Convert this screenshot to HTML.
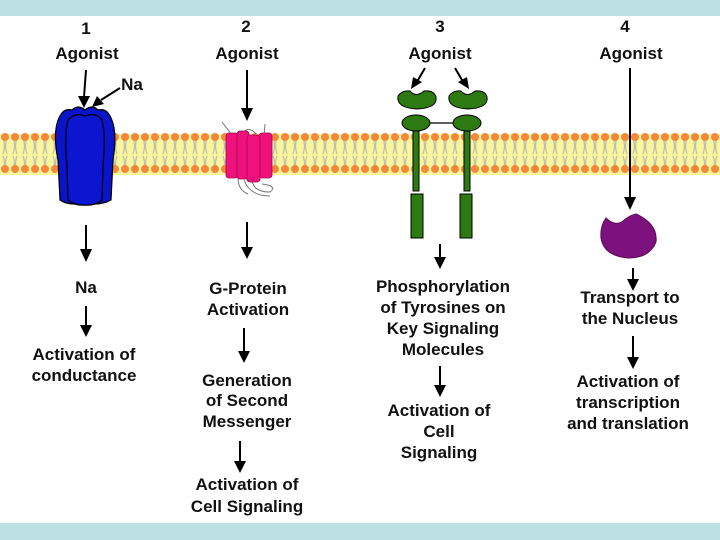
<!DOCTYPE html>
<html><head><style>
html,body{margin:0;padding:0;background:#fff}
svg{display:block}
text{font-family:"Liberation Sans",Arial,sans-serif;font-weight:bold;font-size:17px;fill:#111;text-anchor:middle}
</style></head><body>
<svg width="720" height="540" viewBox="0 0 720 540" xmlns="http://www.w3.org/2000/svg">
<defs>
<pattern id="lip" x="0" y="0" width="10" height="44" patternUnits="userSpaceOnUse">
<path d="M3 6 q3 8 0 16 M7 6 q-3 8 0 16 M3 24 q3 8 0 14 M7 24 q-3 8 0 14" stroke="#bdbdb0" stroke-width="1.2" fill="none"/>
</pattern>
<pattern id="bead" x="0" y="0" width="10" height="44" patternUnits="userSpaceOnUse">
<circle cx="5" cy="5" r="4" fill="#f5883a"/>
<circle cx="5" cy="37" r="4" fill="#f5883a"/>
</pattern>
</defs>
<rect x="0" y="0" width="720" height="16" fill="#bde0e3"/>
<rect x="0" y="523" width="720" height="17" fill="#bde0e3"/>
<rect x="0" y="134" width="720" height="41" fill="#f8f59c"/>
<rect x="0" y="133" width="720" height="44" fill="url(#lip)"/>
<rect x="0" y="133" width="720" height="44" fill="url(#bead)"/>

<text x="86" y="34">1</text><text x="246" y="32">2</text><text x="440" y="32">3</text><text x="625" y="32">4</text>
<text x="87" y="59">Agonist</text><text x="247" y="59">Agonist</text><text x="440" y="59">Agonist</text><text x="631" y="59">Agonist</text>
<text x="132" y="90">Na</text>

<g stroke="#000" stroke-width="2" fill="none">
<line x1="86" y1="70" x2="84" y2="97"/>
<line x1="120" y1="88" x2="101" y2="100"/>
<line x1="247" y1="70" x2="247" y2="108"/>
<line x1="425" y1="68" x2="418" y2="80"/>
<line x1="455" y1="68" x2="462" y2="80"/>
<line x1="630" y1="68" x2="630" y2="198"/>
<line x1="86" y1="225" x2="86" y2="250"/>
<line x1="86" y1="306" x2="86" y2="326"/>
<line x1="247" y1="222" x2="247" y2="248"/>
<line x1="244" y1="328" x2="244" y2="352"/>
<line x1="240" y1="441" x2="240" y2="462"/>
<line x1="440" y1="244" x2="440" y2="258"/>
<line x1="440" y1="366" x2="440" y2="386"/>
<line x1="633" y1="268" x2="633" y2="280"/>
<line x1="633" y1="336" x2="633" y2="358"/>
</g>
<g fill="#000">
<path d="M78 96 L90 96 L84 108 Z"/>
<path d="M97 96 L104 104 L92 107 Z"/>
<path d="M241 108 L253 108 L247 121 Z"/>
<path d="M413 77 L422 82 L411 89 Z"/>
<path d="M458 82 L467 77 L469 89 Z"/>
<path d="M624 197 L636 197 L630 210 Z"/>
<path d="M80 249 L92 249 L86 262 Z"/>
<path d="M80 325 L92 325 L86 337 Z"/>
<path d="M241 247 L253 247 L247 259 Z"/>
<path d="M238 351 L250 351 L244 363 Z"/>
<path d="M234 461 L246 461 L240 473 Z"/>
<path d="M434 257 L446 257 L440 269 Z"/>
<path d="M434 385 L446 385 L440 397 Z"/>
<path d="M627 279 L639 279 L633 291 Z"/>
<path d="M627 357 L639 357 L633 369 Z"/>
</g>

<g fill="#0a14c8" stroke="#000" stroke-width="1.2">
<path d="M60 116 Q64 108 72 110 Q78 104 85 110 Q92 104 98 110 Q106 108 110 116 Q118 130 113 160 L111 200 Q100 206 85 203 Q68 206 60 200 L58 160 Q52 130 60 116 Z"/>
<path d="M68 120 Q75 112 85 116 Q96 112 102 120 Q106 135 103 165 L102 200 Q95 206 85 205 Q75 206 68 200 L67 165 Q64 135 68 120 Z" fill="#0c16d0"/>
</g>

<g stroke="#777" stroke-width="1" fill="none">
<path d="M222 122 L232 135"/><path d="M265 124 L264 135"/>
<path d="M240 136 Q248 124 256 134"/>
<path d="M238 178 Q238 190 248 194"/><path d="M252 178 Q252 192 270 192 Q278 186 262 184"/>
<path d="M244 180 Q250 196 270 196"/>
</g>
<g fill="#f0127c" stroke="#a00848" stroke-width="0.8">
<rect x="226" y="133" width="12" height="45" rx="3"/>
<rect x="237" y="131" width="12" height="48" rx="3"/>
<rect x="259" y="133" width="13" height="45" rx="3"/>
<rect x="247" y="135" width="13" height="47" rx="3"/>
</g>

<g fill="#2e7a12" stroke="#000" stroke-width="1">
<path d="M398 96 Q402 90 410 91 Q416 98 424 91 Q434 90 436 97 Q438 108 417 109 Q396 108 398 96 Z"/>
<path d="M449 96 Q453 90 461 91 Q467 98 475 91 Q485 90 487 97 Q489 108 468 109 Q447 108 449 96 Z"/>
<ellipse cx="416" cy="123" rx="14" ry="8"/>
<ellipse cx="467" cy="123" rx="14" ry="8"/>
<rect x="413" y="131" width="6" height="60"/>
<rect x="464" y="131" width="6" height="60"/>
<rect x="411" y="194" width="12" height="44"/>
<rect x="460" y="194" width="12" height="44"/>
</g>
<line x1="430" y1="123" x2="453" y2="123" stroke="#000" stroke-width="1.3"/>

<path d="M606 218 Q614 226 622 222 Q628 216 636 214 Q658 224 656 242 Q650 258 628 258 Q604 256 601 238 Q600 226 606 218 Z" fill="#7d127e" stroke="#5a0a5a" stroke-width="1"/>

<text x="86" y="293">Na</text>
<text x="84" y="360">Activation of</text><text x="84" y="381">conductance</text>
<text x="248" y="294">G-Protein</text><text x="248" y="315">Activation</text>
<text x="247" y="386">Generation</text><text x="247" y="406">of Second</text><text x="247" y="427">Messenger</text>
<text x="247" y="490">Activation of</text><text x="247" y="512">Cell Signaling</text>
<text x="443" y="292">Phosphorylation</text><text x="443" y="313">of Tyrosines on</text><text x="443" y="334">Key Signaling</text><text x="443" y="355">Molecules</text>
<text x="439" y="416">Activation of</text><text x="439" y="437">Cell</text><text x="439" y="458">Signaling</text>
<text x="630" y="303">Transport to</text><text x="630" y="324">the Nucleus</text>
<text x="628" y="387">Activation of</text><text x="628" y="408">transcription</text><text x="628" y="429">and translation</text>
</svg>
</body></html>
